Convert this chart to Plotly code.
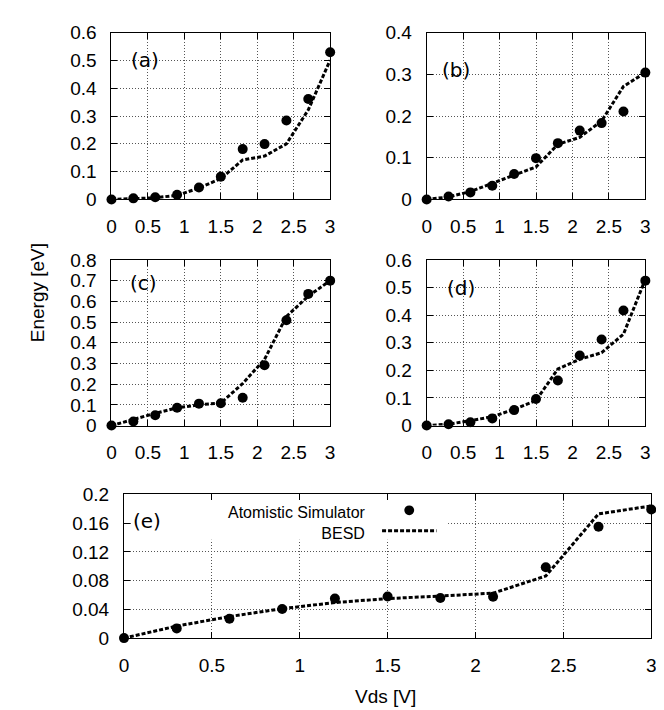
import plotly.graph_objects as go

# ---------------- data ----------------
vds = [0.0, 0.3, 0.6, 0.9, 1.2, 1.5, 1.8, 2.1, 2.4, 2.7, 3.0]

atom_a = [0.0, 0.004, 0.008, 0.017, 0.043, 0.082, 0.181, 0.199, 0.284, 0.361, 0.529]
besd_a = [0.0, 0.002, 0.006, 0.015, 0.041, 0.075, 0.142, 0.156, 0.200, 0.322, 0.501]

atom_b = [0.0, 0.007, 0.017, 0.033, 0.061, 0.099, 0.135, 0.165, 0.183, 0.211, 0.304]
besd_b = [0.0, 0.006, 0.019, 0.039, 0.058, 0.078, 0.132, 0.149, 0.188, 0.271, 0.304]

atom_c = [0.0, 0.020, 0.050, 0.086, 0.106, 0.108, 0.134, 0.291, 0.509, 0.636, 0.700]
besd_c = [0.0, 0.031, 0.059, 0.086, 0.100, 0.109, 0.203, 0.320, 0.527, 0.625, 0.700]

atom_d = [0.0, 0.005, 0.012, 0.026, 0.056, 0.096, 0.163, 0.254, 0.312, 0.417, 0.525]
besd_d = [0.0, 0.005, 0.018, 0.032, 0.059, 0.091, 0.205, 0.240, 0.264, 0.331, 0.530]

atom_e = [0.0, 0.0135, 0.027, 0.0405, 0.055, 0.058, 0.0559, 0.0577, 0.0986, 0.155, 0.179]
besd_e = [0.0, 0.0167, 0.030, 0.041, 0.0495, 0.055, 0.0586, 0.0626, 0.0865, 0.173, 0.184]

panel_labels = ["(a)", "(b)", "(c)", "(d)", "(e)"]
x_ticks = [0, 0.5, 1, 1.5, 2, 2.5, 3]
legend_names = ["Atomistic Simulator", "BESD"]
x_title = "Vds [V]"
y_title = "Energy [eV]"

# ---------------- layout geometry (pixels) ----------------
W, H = 664, 710
FONT = "Liberation Sans, Arial, Helvetica, sans-serif"
LABEL_FONT = "DejaVu Sans, Verdana, sans-serif"
TICK_SIZE = 19

def xd(x0, x1):
    return [x0 / W, x1 / W]

def yd(top, bottom):
    return [1 - bottom / H, 1 - top / H]

panels = [
    # (atom, besd, ymax, ydtick, xdomain, ydomain, label pos)
    (atom_a, besd_a, 0.6, 0.1, xd(100, 322), yd(15, 187), (0.243, 0.50)),
    (atom_b, besd_b, 0.4, 0.1, xd(420, 642), yd(15, 187), (0.18, 0.31)),
    (atom_c, besd_c, 0.8, 0.1, xd(100, 322), yd(249.3, 420), (0.225, 0.69)),
    (atom_d, besd_d, 0.6, 0.1, xd(420, 642), yd(249.3, 420), (0.247, 0.50)),
    (atom_e, besd_e, 0.2, 0.04, xd(112.7, 648), yd(491, 639), (0.041, 0.163)),
]

fig = go.Figure()
annotations = []
shapes = []

for i, (atom, besd, ymax, dt, xdom, ydom, lpos) in enumerate(panels):
    n = "" if i == 0 else str(i + 1)
    xa, ya = "x" + n, "y" + n
    fig.add_trace(go.Scatter(
        x=vds, y=besd, mode="lines", xaxis=xa, yaxis=ya,
        line=dict(color="black", width=3, dash="4px,2px"),
        showlegend=False, cliponaxis=False, hoverinfo="skip"))
    fig.add_trace(go.Scatter(
        x=vds, y=atom, mode="markers", xaxis=xa, yaxis=ya,
        marker=dict(color="black", size=10, line=dict(width=0)),
        showlegend=False, cliponaxis=False))
    common = dict(
        showline=True, linecolor="black", linewidth=1, mirror="ticks",
        ticks="inside", ticklen=6, tickwidth=1, tickcolor="black",
        showgrid=True, gridcolor="#555555", gridwidth=1, griddash="1px,2px",
        zeroline=False, tickfont=dict(family=FONT, size=TICK_SIZE, color="black"),
        fixedrange=True,
    )
    fig.layout["xaxis" + n] = dict(
        domain=xdom, range=[0, 3], tickvals=x_ticks, anchor=ya,
        ticklabelstandoff=10, **common)
    fig.layout["yaxis" + n] = dict(
        domain=ydom, range=[0, ymax], dtick=dt, tick0=0, anchor=xa,
        ticklabelstandoff=10, **common)
    annotations.append(dict(
        x=lpos[0], y=lpos[1], xref=xa, yref=ya, text=panel_labels[i],
        showarrow=False, xanchor="left", yanchor="middle",
        font=dict(family=LABEL_FONT, size=20, color="black")))

# opaque key box in panel (e) hiding grid lines
shapes.append(dict(type="rect", xref="x5", yref="y5", x0=0.04, x1=1.844,
                   y0=0.137, y1=0.2, fillcolor="white", line=dict(width=0),
                   layer="between"))

# key entries (gnuplot style: text right-aligned, sample on the right)
def py(p):
    return 1 - p / H

annotations.append(dict(x=360 / W, y=py(520), xref="paper", yref="paper",
                        text=legend_names[0] + "<br>" + legend_names[1],
                        showarrow=False, xanchor="right", align="right",
                        yanchor="middle", font=dict(family=FONT, size=16, color="black")))
shapes.append(dict(type="circle", xref="paper", yref="paper",
                   x0=(402.3 - 5) / W, x1=(402.3 + 5) / W,
                   y0=py(507.3 + 5), y1=py(507.3 - 5),
                   fillcolor="black", line=dict(width=0)))
shapes.append(dict(type="line", xref="paper", yref="paper",
                   x0=374.7 / W, x1=430 / W, y0=py(528.3), y1=py(528.3),
                   line=dict(color="black", width=3, dash="4px,2px")))

# axis titles
annotations.append(dict(x=378 / W, y=py(699), xref="paper", yref="paper",
                        text=x_title, showarrow=False, xanchor="center",
                        yanchor="middle", font=dict(family=FONT, size=19, color="black")))
annotations.append(dict(x=25 / W, y=py(283), xref="paper", yref="paper",
                        text=y_title, showarrow=False, textangle=-90,
                        xanchor="center", yanchor="middle",
                        font=dict(family=FONT, size=19, color="black")))

fig.update_layout(
    width=W, height=H, margin=dict(l=0, r=0, t=0, b=0),
    paper_bgcolor="white", plot_bgcolor="white",
    annotations=annotations, shapes=shapes, showlegend=False,
    font=dict(family=FONT, color="black"),
)

fig.write_html("out.html")
